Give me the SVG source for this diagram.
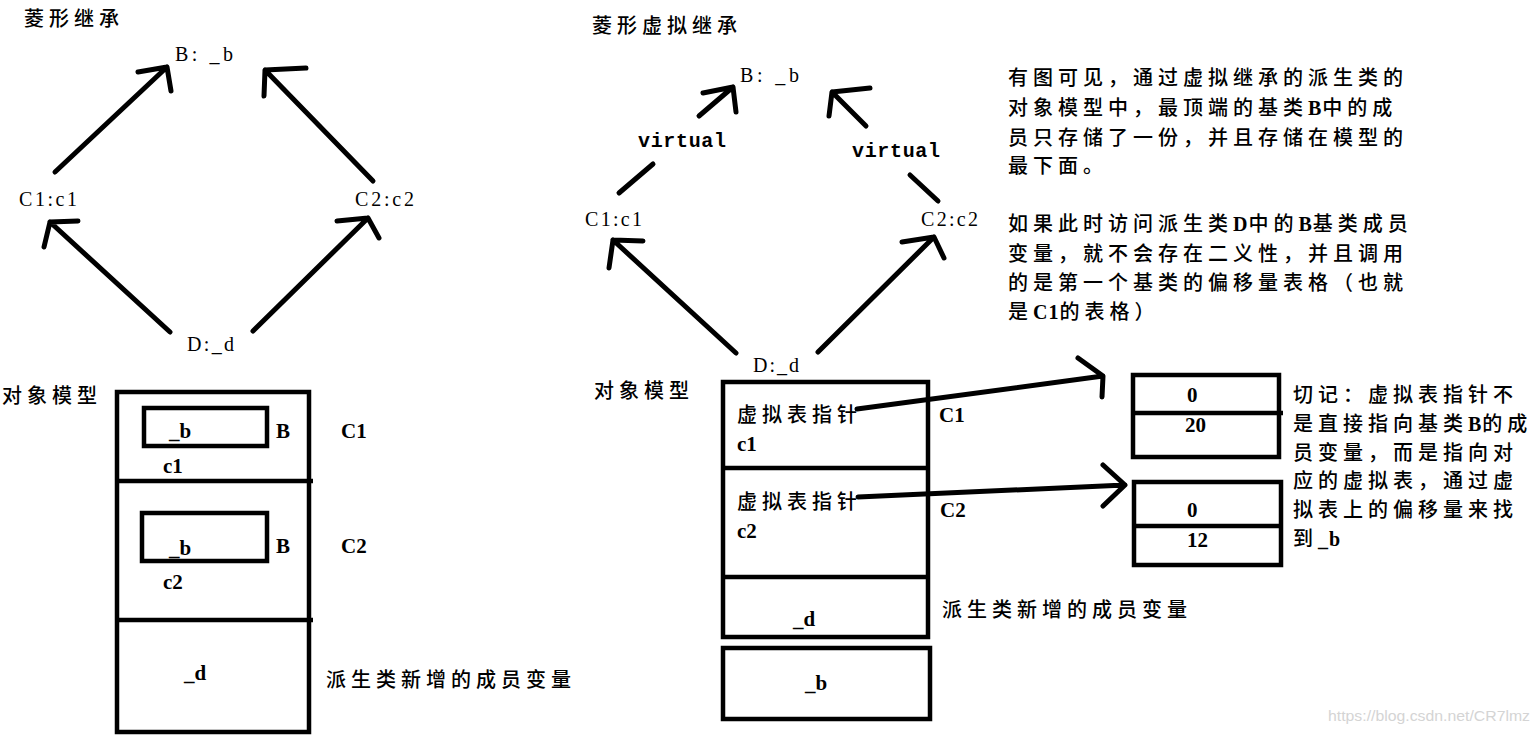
<svg xmlns="http://www.w3.org/2000/svg" width="1539" height="735" viewBox="0 0 1539 735">
<style>
.ln{stroke:#000;stroke-width:5;fill:none;stroke-linecap:round;stroke-linejoin:round}
.box{stroke:#000;stroke-width:4.5;fill:none}
.cn{font-family:'Liberation Serif','Noto Sans CJK SC',serif;font-size:20px;letter-spacing:5px;fill:#000;font-weight:500}
.lt{letter-spacing:1px;font-weight:bold}
.lat{font-family:'Liberation Serif','Noto Sans CJK SC',serif;font-size:20px;fill:#000}
.b{font-weight:bold;font-size:21px}
.mono{font-family:'Liberation Mono',monospace;font-size:20px;font-weight:bold;fill:#000}
.wm{font-family:'Liberation Sans',sans-serif;font-size:15px;fill:#d4d4d4}
</style>
<rect width="1539" height="735" fill="#fff"/>

<!-- ===== Left: diamond inheritance ===== -->
<text class="cn" x="24" y="26">菱形继承</text>
<g id="L_B"><text class="lat" x="175" y="61" textLength="58" lengthAdjust="spacing">B: _b</text></g>
<g id="L_C1"><text class="lat" x="19" y="206" textLength="58" lengthAdjust="spacing">C1:c1</text></g>
<g id="L_C2"><text class="lat" x="355" y="206" textLength="59" lengthAdjust="spacing">C2:c2</text></g>
<g id="L_D"><text class="lat" x="187" y="351" textLength="47" lengthAdjust="spacing">D:_d</text></g>
<g id="L_edges">
  <path class="ln" d="M55,172 L167,67 M138,72 L167,67 L171,91"/>
  <path class="ln" d="M373,181 L265,70 M306,68 L265,70 L264,96"/>
  <path class="ln" d="M170,332 L50,222 M78,221 L50,222 L44,247"/>
  <path class="ln" d="M253,331 L368,218 M337,221 L368,218 L379,238"/>
</g>

<!-- Left object model -->
<g id="L_model">
  <text class="cn" x="2" y="403">对象模型</text>
  <rect class="box" x="117" y="392" width="192" height="340"/>
  <path class="box" d="M117,481 L313,481 M117,620 L313,620"/>
  <rect class="box" x="144" y="408" width="123" height="38"/>
  <rect class="box" x="142" y="513" width="125" height="48"/>
  <text class="lat b" x="169" y="438">_b</text>
  <text class="lat b" x="276" y="438">B</text>
  <text class="lat b" x="341" y="438">C1</text>
  <text class="lat b" x="163" y="473">c1</text>
  <text class="lat b" x="169" y="555">_b</text>
  <text class="lat b" x="276" y="553">B</text>
  <text class="lat b" x="341" y="553">C2</text>
  <text class="lat b" x="163" y="589">c2</text>
  <text class="lat b" x="184" y="680">_d</text>
  <text class="cn" x="326" y="687">派生类新增的成员变量</text>
</g>

<!-- ===== Right: virtual diamond inheritance ===== -->
<text class="cn" x="592" y="33">菱形虚拟继承</text>
<g id="R_B"><text class="lat" x="740" y="82" textLength="59" lengthAdjust="spacing">B: _b</text></g>
<g id="R_C1"><text class="lat" x="585" y="226" textLength="57" lengthAdjust="spacing">C1:c1</text></g>
<g id="R_C2"><text class="lat" x="921" y="226" textLength="57" lengthAdjust="spacing">C2:c2</text></g>
<g id="R_D"><text class="lat" x="753" y="372" textLength="46" lengthAdjust="spacing">D:_d</text></g>
<g id="R_edges">
  <path class="ln" d="M619,193 L653,164 M699,116 L733,87 M703,93 L733,87 L736,112"/>
  <text class="mono" x="638" y="147" textLength="88" lengthAdjust="spacing">virtual</text>
  <path class="ln" d="M938,201 L910,175 M866,126 L832,92 M870,88 L832,92 L829,116"/>
  <text class="mono" x="852" y="157" textLength="88" lengthAdjust="spacing">virtual</text>
  <path class="ln" d="M736,353 L613,240 M643,241 L613,240 L609,268"/>
  <path class="ln" d="M818,352 L934,237 M902,242 L934,237 L944,258"/>
  <path class="ln" d="M857,409 L1103,376 M1078,358 L1103,376 L1102,397"/>
  <path class="ln" d="M858,497 L1125,485 M1103,465 L1125,485 L1103,506"/>
</g>

<!-- Right object model -->
<g id="R_model">
  <text class="cn" x="594" y="398">对象模型</text>
  <rect class="box" x="723" y="382" width="205" height="255"/>
  <path class="box" d="M723,468 L930,468 M723,577 L930,577"/>
  <rect class="box" x="723" y="648" width="207" height="71"/>
  <text class="cn" x="737" y="422">虚拟表指针</text>
  <text class="lat b" x="737" y="451">c1</text>
  <text class="lat b" x="939" y="422">C1</text>
  <text class="cn" x="737" y="509">虚拟表指针</text>
  <text class="lat b" x="737" y="538">c2</text>
  <text class="lat b" x="940" y="517">C2</text>
  <text class="lat b" x="793" y="626">_d</text>
  <text class="lat b" x="805" y="690">_b</text>
  <text class="cn" x="942" y="617">派生类新增的成员变量</text>
</g>

<!-- Virtual tables -->
<g id="vtable1">
  <rect class="box" x="1133" y="375" width="146" height="82"/>
  <path class="box" d="M1133,413 L1283,413"/>
  <text class="lat b" x="1187" y="402">0</text>
  <text class="lat b" x="1185" y="432">20</text>
</g>
<g id="vtable2">
  <rect class="box" x="1134" y="482" width="147" height="83"/>
  <path class="box" d="M1134,526 L1281,526"/>
  <text class="lat b" x="1187" y="517">0</text>
  <text class="lat b" x="1187" y="547">12</text>
</g>

<!-- Notes -->
<g id="note1">
  <text class="cn" x="1008" y="85">有图可见，通过虚拟继承的派生类的</text>
  <text class="cn" x="1008" y="115">对象模型中，最顶端的基类<tspan class="lt">B</tspan>中的成</text>
  <text class="cn" x="1008" y="145">员只存储了一份，并且存储在模型的</text>
  <text class="cn" x="1008" y="173">最下面。</text>
  <text class="cn" x="1008" y="231">如果此时访问派生类<tspan class="lt">D</tspan>中的<tspan class="lt">B</tspan>基类成员</text>
  <text class="cn" x="1008" y="261">变量，就不会存在二义性，并且调用</text>
  <text class="cn" x="1008" y="290">的是第一个基类的偏移量表格（也就</text>
  <text class="cn" x="1008" y="319">是<tspan class="lt">C1</tspan>的表格）</text>
</g>
<g id="note2">
  <text class="cn" x="1293" y="402">切记：虚拟表指针不</text>
  <text class="cn" x="1293" y="431">是直接指向基类<tspan class="lt">B</tspan>的成</text>
  <text class="cn" x="1293" y="460">员变量，而是指向对</text>
  <text class="cn" x="1293" y="488">应的虚拟表，通过虚</text>
  <text class="cn" x="1293" y="517">拟表上的偏移量来找</text>
  <text class="cn" x="1293" y="546">到<tspan class="lt">_b</tspan></text>
</g>
<text class="wm" x="1328" y="721" textLength="202" lengthAdjust="spacingAndGlyphs">https://blog.csdn.net/CR7lmz</text>
</svg>
